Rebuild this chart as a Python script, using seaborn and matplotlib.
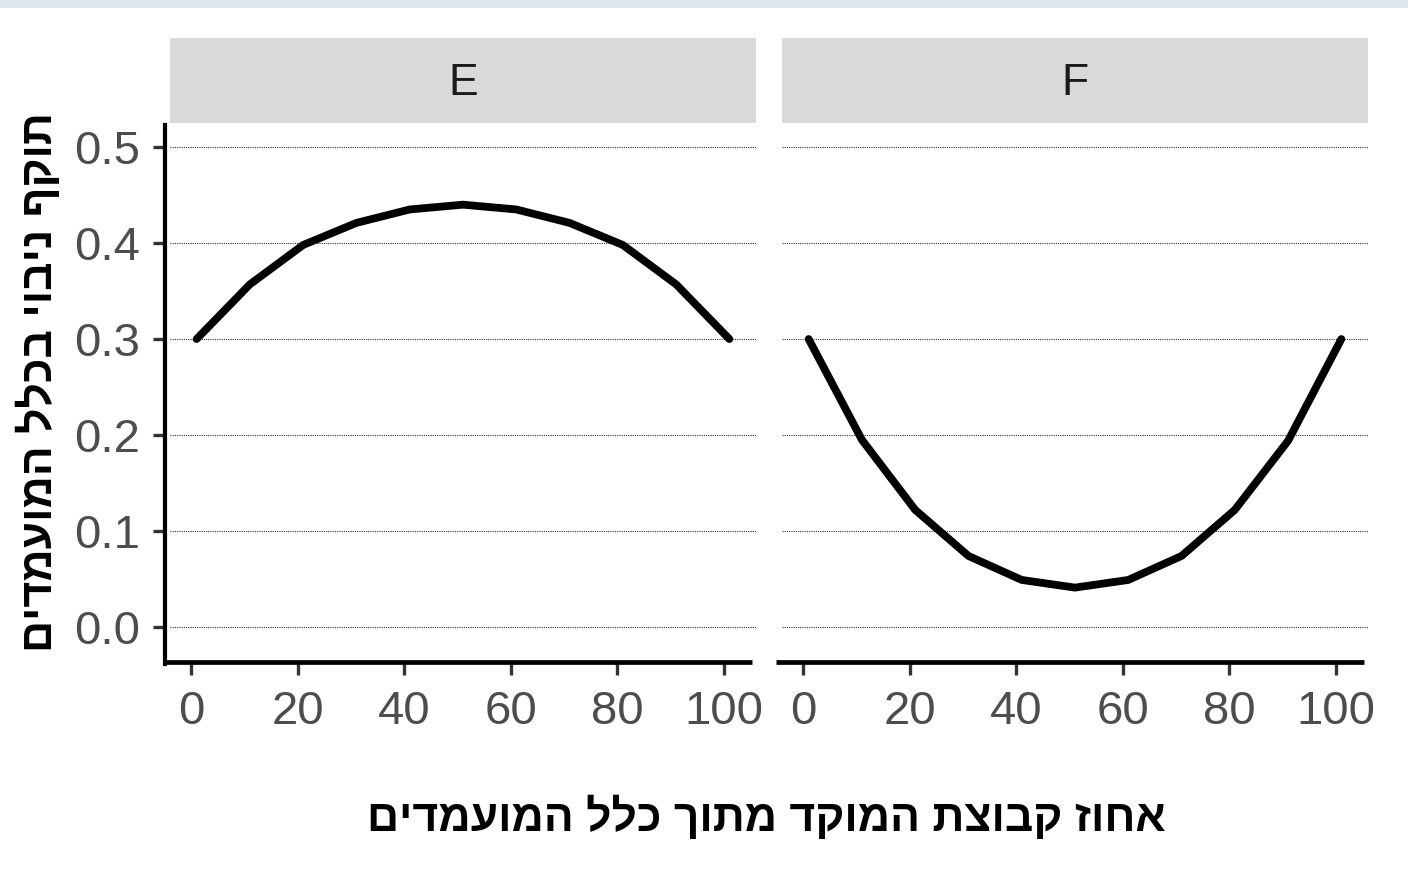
import matplotlib
matplotlib.use("Agg")
import matplotlib.pyplot as plt
import seaborn as sns
import pandas as pd
from matplotlib.patches import Rectangle

sns.set_theme(style="white")
plt.rcParams["font.family"] = ["Liberation Sans", "DejaVu Sans"]

# share of focus group (%) and predictive validity per scenario
share = [1, 11, 21, 31, 41, 51, 61, 71, 81, 91, 101]
validity_E = [0.300, 0.357, 0.398, 0.421, 0.435, 0.440, 0.435, 0.421, 0.398, 0.357, 0.300]
validity_F = [0.300, 0.195, 0.122, 0.074, 0.049, 0.041, 0.049, 0.074, 0.122, 0.194, 0.300]
panels = ["E", "F"]
x_ticks = [0, 20, 40, 60, 80, 100]
y_ticks = [0.0, 0.1, 0.2, 0.3, 0.4, 0.5]
x_title = "אחוז קבוצת המוקד מתוך כלל המועמדים"
y_title = "תוקף ניבוי בכלל המועמדים"

df = pd.concat([
    pd.DataFrame({"share": share, "validity": validity_E, "panel": "E"}),
    pd.DataFrame({"share": share, "validity": validity_F, "panel": "F"}),
])


def rtl(s):
    # matplotlib lays text out left-to-right; flip Hebrew for display
    return s[::-1]


W, H = 1408, 884
fig = plt.figure(figsize=(W / 100, H / 100), dpi=100)

# soft band along the top edge
fig.patches.append(Rectangle((0, 1 - 8 / H), 1, 8 / H, transform=fig.transFigure,
                             facecolor="#dde6ef", edgecolor="none", zorder=0))

lefts = [170, 782]
pw = 586
bottom_px, top_px = 662, 125

for i, (name, left) in enumerate(zip(panels, lefts)):
    ax = fig.add_axes([left / W, (H - bottom_px) / H, pw / W, (bottom_px - top_px) / H])
    sub = df[df["panel"] == name]
    sns.lineplot(data=sub, x="share", y="validity", ax=ax, color="black",
                 linewidth=5.6, legend=False)
    ax.set_xlim(-4, 106)
    ax.set_ylim(-0.0365, 0.523)
    ax.set_xticks(x_ticks)
    ax.set_yticks(y_ticks)
    ax.set_xticklabels([str(t) for t in x_ticks])
    ax.set_yticklabels([f"{t:.1f}" for t in y_ticks])
    ax.set_xlabel("")
    ax.set_ylabel("")
    for t in y_ticks:
        ax.axhline(t, color="#333333", linewidth=0.8, linestyle=(0, (1, 1)), zorder=0)
    for side in ["top", "right"]:
        ax.spines[side].set_visible(False)
    ax.spines["bottom"].set_linewidth(3.4)
    ax.spines["bottom"].set_color("black")
    ax.spines["bottom"].set_bounds(-5.2, 105.2)
    ax.spines["bottom"].set_capstyle("butt")
    if i == 0:
        ax.spines["left"].set_linewidth(3.0)
        ax.spines["left"].set_color("black")
        ax.spines["left"].set_position(("outward", 3.5))
        ax.spines["left"].set_bounds(-0.0385, 0.523)
        ax.tick_params(axis="y", length=9, width=2.4, color="#333333", pad=9,
                       labelsize=34, labelcolor="#4d4d4d", left=True)
    else:
        ax.spines["left"].set_visible(False)
        ax.tick_params(axis="y", left=False, labelleft=False)
    ax.tick_params(axis="x", length=9, width=2.4, color="#333333", pad=11,
                   labelsize=34, labelcolor="#4d4d4d", bottom=True)

    # facet strip
    sax = fig.add_axes([left / W, (H - 123) / H, pw / W, 85 / H])
    sax.set_facecolor("#d9d9d9")
    sax.set_xticks([])
    sax.set_yticks([])
    for s in sax.spines.values():
        s.set_visible(False)
    sax.text(0.5, 0.47, name, ha="center", va="center", fontsize=32,
             color="#1a1a1a", transform=sax.transAxes)

fig.text(766 / W, 1 - 818 / H, rtl(x_title), ha="center", va="center",
         fontsize=32, fontweight="bold", color="black")
fig.text(39 / W, 1 - 382 / H, rtl(y_title), ha="center", va="center",
         rotation=90, fontsize=32, fontweight="bold", color="black")

fig.savefig("out.png", dpi=100, facecolor="white")
